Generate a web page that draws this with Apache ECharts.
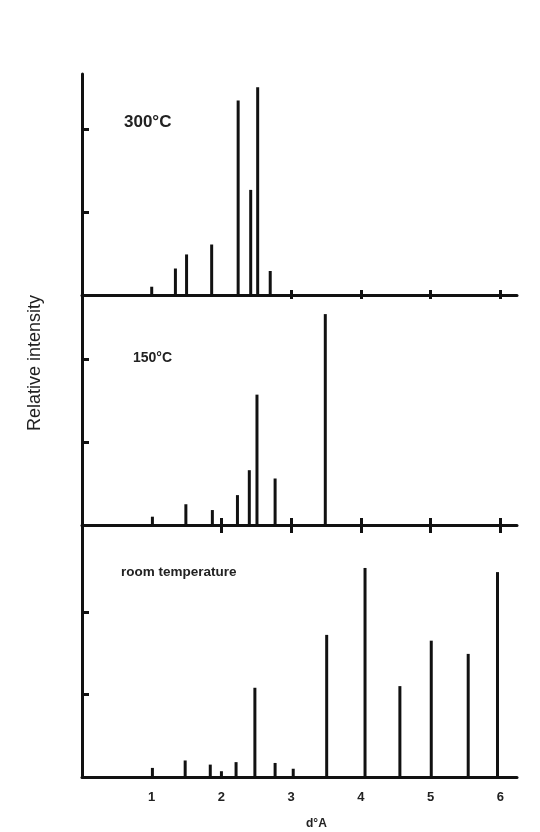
<!DOCTYPE html>
<html>
<head>
<meta charset="utf-8">
<script src="https://cdn.jsdelivr.net/npm/echarts@6/dist/echarts.min.js"></script>
<style>
  html, body { margin: 0; padding: 0; background: #fff; }
  #chart { width: 540px; height: 832px; }
</style>
</head>
<body>
<div id="chart"></div>
<script>
// d spacing (Å) and relative intensity of each line, per temperature
var d300 = [1.0, 1.34, 1.5, 1.86, 2.24, 2.42, 2.52, 2.7];
var i300 = [0.10, 0.32, 0.49, 0.61, 2.35, 1.27, 2.51, 0.29];

var d150 = [1.01, 1.49, 1.87, 2.23, 2.4, 2.51, 2.77, 3.49];
var i150 = [0.10, 0.25, 0.18, 0.36, 0.66, 1.57, 0.56, 2.54];

var dRoom = [1.01, 1.48, 1.84, 2.0, 2.21, 2.48, 2.77, 3.03, 3.51, 4.06, 4.56, 5.01, 5.54, 5.96];
var iRoom = [0.11, 0.20, 0.15, 0.07, 0.18, 1.08, 0.17, 0.10, 1.72, 2.53, 1.10, 1.65, 1.49, 2.48];

var xLabels = [1, 2, 3, 4, 5, 6];
var ticks300 = [3, 4, 5, 6];
var ticks150 = [2, 3, 4, 5, 6];
var yTicks = [1, 2];

var panelNames = ['300°C', '150°C', 'room temperature'];

function pairs(xs, ys) {
  return xs.map(function (x, k) { return [x, ys[k]]; });
}

var chart = echarts.init(document.getElementById('chart'), null, { renderer: 'canvas' });

var black = '#111';
var xMin = 0, xMax = 6.24;

// main x axis (line + ticks pointing down) and a twin one for the ticks pointing up
function xAxisMain(grid, tickVals, tickLen, showLabels) {
  return {
    type: 'value', gridIndex: grid, position: 'bottom', min: xMin, max: xMax,
    axisLine: { show: true, onZero: false, lineStyle: { color: black, width: 3 } },
    axisTick: { show: tickVals.length > 0, length: tickLen, lineStyle: { color: black, width: 3 }, customValues: tickVals },
    axisLabel: showLabels ? {
      show: true, customValues: xLabels, margin: 14, color: '#222',
      fontFamily: 'Liberation Sans', fontWeight: 'bold', fontSize: 13
    } : { show: false },
    splitLine: { show: false }
  };
}
function xAxisTwin(grid, tickVals, tickLen) {
  return {
    type: 'value', gridIndex: grid, position: 'bottom', offset: 0, min: xMin, max: xMax,
    axisLine: { show: false },
    axisTick: { show: true, inside: true, length: tickLen, lineStyle: { color: black, width: 3 }, customValues: tickVals },
    axisLabel: { show: false },
    splitLine: { show: false }
  };
}
function yAxis(grid, max) {
  return {
    type: 'value', gridIndex: grid, min: 0, max: max,
    axisLine: { show: true, lineStyle: { color: black, width: 3 } },
    axisTick: { show: true, inside: true, length: 7, lineStyle: { color: black, width: 3 }, customValues: yTicks },
    axisLabel: { show: false },
    splitLine: { show: false }
  };
}

var option = {
  backgroundColor: '#fff',
  animation: false,
  grid: [
    { left: 82, width: 435, top: 74, height: 221 },
    { left: 82, width: 435, top: 295, height: 230 },
    { left: 82, width: 435, top: 525, height: 252 }
  ],
  xAxis: [
    xAxisMain(0, ticks300, 4, false),
    xAxisTwin(0, ticks300, 5),
    xAxisMain(1, ticks150, 8, false),
    xAxisTwin(1, ticks150, 7),
    xAxisMain(2, [], 0, true)
  ],
  yAxis: [yAxis(0, 2.67), yAxis(1, 2.77), yAxis(2, 3.05)],
  series: [
    { name: panelNames[0], type: 'bar', xAxisIndex: 0, yAxisIndex: 0, barWidth: 3, itemStyle: { color: black }, data: pairs(d300, i300) },
    { name: panelNames[1], type: 'bar', xAxisIndex: 2, yAxisIndex: 1, barWidth: 3, itemStyle: { color: black }, data: pairs(d150, i150) },
    { name: panelNames[2], type: 'bar', xAxisIndex: 4, yAxisIndex: 2, barWidth: 3, itemStyle: { color: black }, data: pairs(dRoom, iRoom) }
  ],
  graphic: [
    { type: 'text', left: 124, top: 114, style: { text: panelNames[0], fill: '#222', font: 'bold 17px "Liberation Sans"' } },
    { type: 'text', left: 133, top: 351, style: { text: panelNames[1], fill: '#222', font: 'bold 14px "Liberation Sans"' } },
    { type: 'text', left: 121, top: 565, style: { text: panelNames[2], fill: '#222', font: 'bold 13.5px "Liberation Sans"' } },
    { type: 'text', x: 35, y: 363, rotation: Math.PI / 2, style: { text: 'Relative intensity', fill: '#222', font: '18px "Liberation Sans"', align: 'center', verticalAlign: 'middle' } },
    { type: 'text', left: 306, top: 818, style: { text: 'd°A', fill: '#222', font: 'bold 12px "Liberation Sans"' } }
  ]
};

chart.setOption(option);
</script>
</body>
</html>
